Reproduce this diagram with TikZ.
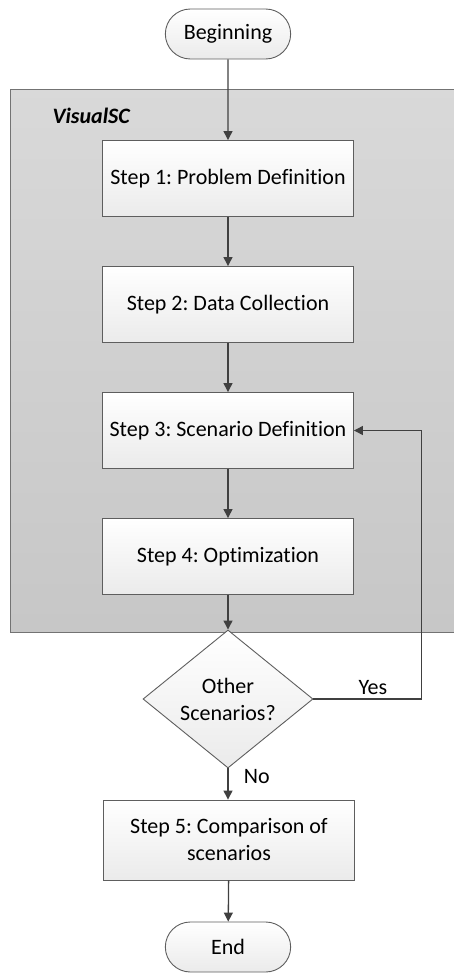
\documentclass[tikz,border=0pt]{standalone}
\usepackage{fontspec}
\setmainfont{Carlito}[Ligatures={TeX,NoCommon}]
\usepackage{tikz}
\usetikzlibrary{arrows.meta,shapes.misc,shapes.geometric,positioning,calc}
\frenchspacing
\definecolor{linie}{HTML}{404040}
\definecolor{rahmen}{HTML}{5E5E5E}
\tikzset{
  arrow/.style={draw=linie,line width=1.3pt,-{Triangle[length=9pt,width=9pt]}},
  stepbox/.style={draw=rahmen,line width=0.9pt,rectangle,minimum width=251pt,minimum height=76pt,
    top color=white,bottom color=black!8,align=center,inner sep=2pt},
  terminal/.style={draw=rahmen,line width=0.9pt,rounded rectangle,minimum width=132pt,minimum height=50pt,
    top color=white,bottom color=black!8},
  decision/.style={draw=rahmen,line width=0.9pt,diamond,minimum width=170pt,minimum height=100pt,
    inner sep=0pt,top color=white,bottom color=black!8,align=center}
}
\begin{document}
\begin{tikzpicture}[x=1pt,y=-1pt,font=\fontsize{22}{27}\selectfont]
%Abstaende der Schritte in Pixel
  \pgfmathsetmacro{\xMitte}{228}
  \pgfmathsetmacro{\yStart}{178.5}
  \pgfmathsetmacro{\dy}{126}
\useasboundingbox (0,0) rectangle (453,973);
%grauer Kasten VisualSC
\draw[draw=black!55,line width=1pt,top color=black!15,bottom color=black!22] (10,90) rectangle (470,632);
\node[anchor=west,font=\fontsize{22}{27}\selectfont\bfseries\itshape] (vsc) at (49,116) {VisualSC};
\node[terminal] (begin) at (\xMitte,34) {Beginning};
\foreach \i/\txt in {1/Problem Definition,2/Data Collection,3/Scenario Definition,4/Optimization}{
\node[stepbox] (s\i) at (\xMitte,{\yStart+\dy*(\i-1)}) {Step \i: \txt};
}
\node[decision] (dec) at (\xMitte,699) {Other\\Scenarios?};
\node[stepbox,minimum height=80pt] (s5) at (\xMitte+1,840) {Step 5: Comparison of\\scenarios};
\node[terminal] (end) at (\xMitte,947) {End};
\draw[arrow] (begin) -- (s1);
\foreach \i [evaluate=\i as \j using int(\i+1)] in {1,2,3}{
\draw[arrow] (s\i) -- (s\j);
}
\draw[arrow] (s4) -- (dec);
\draw[arrow] (dec.south) --node[right,xshift=12pt,pos=0.25] {No} (dec.south |- s5.north);
\draw[arrow] (dec.east) --node[above,pos=0.55] {Yes} ++(108,0) |- (s3.east);
\draw[arrow] (s5) -- (end);
\end{tikzpicture}
\end{document}
